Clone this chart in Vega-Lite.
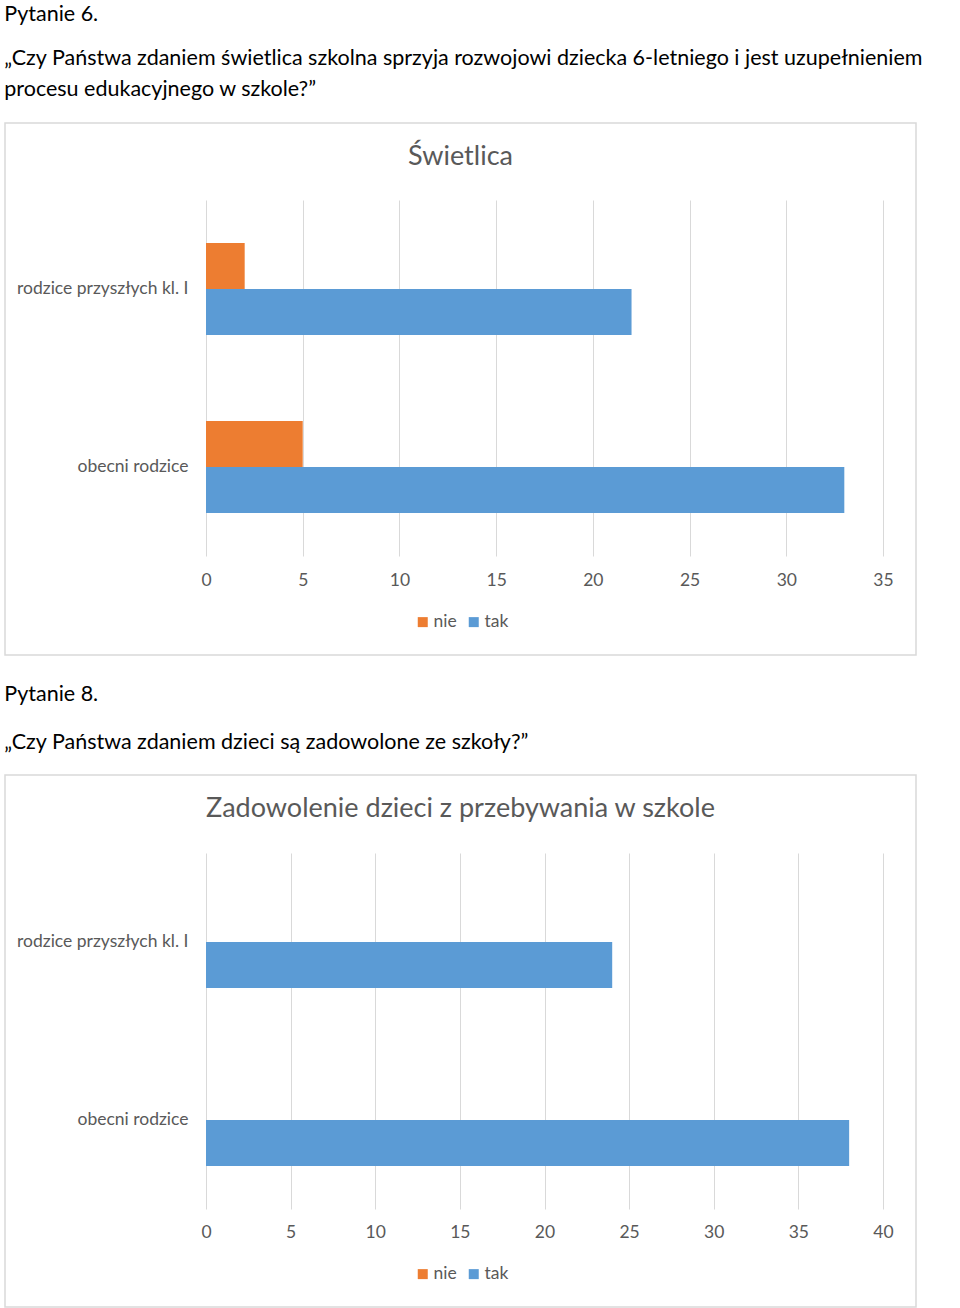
{
  "$schema": "https://vega.github.io/schema/vega-lite/v6.json",
  "padding": {"left": 4, "top": 4, "right": 0, "bottom": 0},
  "background": "white",
  "spacing": 28,
  "resolve": {"scale": {"color": "independent"}, "legend": {"color": "independent"}},
  "config": {
    "font": "Lato",
    "view": {"stroke": "#d9d9d9", "strokeWidth": 1.5},
    "axis": {"labelFont": "Lato", "labelFontSize": 17.5, "labelColor": "#595959", "gridColor": "#d9d9d9", "gridWidth": 1, "domain": false, "ticks": false, "title": null},
    "legend": {"labelFont": "Lato", "labelFontSize": 17.5, "labelColor": "#595959"}
  },
  "datasets": {
    "q6": [
      {"grupa": "rodzice przyszłych kl. I", "odp": "nie", "liczba": 2},
      {"grupa": "rodzice przyszłych kl. I", "odp": "tak", "liczba": 22},
      {"grupa": "obecni rodzice", "odp": "nie", "liczba": 5},
      {"grupa": "obecni rodzice", "odp": "tak", "liczba": 33}
    ],
    "q8": [
      {"grupa": "rodzice przyszłych kl. I", "odp": "nie", "liczba": 0},
      {"grupa": "rodzice przyszłych kl. I", "odp": "tak", "liczba": 24},
      {"grupa": "obecni rodzice", "odp": "nie", "liczba": 0},
      {"grupa": "obecni rodzice", "odp": "tak", "liczba": 38}
    ]
  },
  "vconcat": [
    {
      "title": {
        "text": "Pytanie 6.",
        "subtitle": ["„Czy Państwa zdaniem świetlica szkolna sprzyja rozwojowi dziecka 6-letniego i jest uzupełnieniem", "procesu edukacyjnego w szkole?”"],
        "anchor": "start", "font": "Lato", "fontSize": 21.5, "fontWeight": "normal", "color": "black",
        "subtitleFont": "Lato", "subtitleFontSize": 21.5, "subtitleColor": "black", "subtitlePadding": 22, "subtitleLineHeight": 31, "offset": 22
      },
      "vconcat": [
        {
          "width": 911, "height": 532,
          "data": {"name": "q6"},
          "title": {"text": "Świetlica", "offset": -48, "fontSize": 27, "color": "#595959", "fontWeight": "normal", "anchor": "middle", "font": "Lato"},
          "mark": {"type": "bar"},
          "encoding": {
            "y": {"field": "grupa", "type": "nominal", "sort": ["rodzice przyszłych kl. I", "obecni rodzice"],
              "scale": {"range": [77, 433], "paddingInner": 0.483, "paddingOuter": 0.2415},
              "axis": {"offset": -183, "labelPadding": 0, "grid": false}},
            "yOffset": {"field": "odp", "type": "nominal", "sort": ["nie", "tak"], "scale": {"paddingInner": 0, "paddingOuter": 0}},
            "x": {"field": "liczba", "type": "quantitative",
              "scale": {"domain": [0, 35], "range": [201, 878], "nice": false},
              "axis": {"orient": "top", "values": [0, 5, 10, 15, 20, 25, 30, 35], "offset": -466, "labelPadding": 0, "labelFlush": false, "grid": true}},
            "color": {"field": "odp", "type": "nominal",
              "scale": {"domain": ["nie", "tak"], "range": ["#ED7D31", "#5B9BD5"]},
              "legend": {"title": null, "orient": "none", "direction": "horizontal", "legendX": 409, "legendY": 490, "symbolType": "square", "symbolSize": 100, "symbolStrokeWidth": 0, "labelOffset": 2, "columnPadding": 8}}
          }
        }
      ]
    },
    {
      "title": {
        "text": "Pytanie 8.",
        "subtitle": ["„Czy Państwa zdaniem dzieci są zadowolone ze szkoły?”"],
        "anchor": "start", "font": "Lato", "fontSize": 21.5, "fontWeight": "normal", "color": "black",
        "subtitleFont": "Lato", "subtitleFontSize": 21.5, "subtitleColor": "black", "subtitlePadding": 26, "subtitleLineHeight": 31, "offset": 21
      },
      "vconcat": [
        {
          "width": 911, "height": 532,
          "data": {"name": "q8"},
          "title": {"text": "Zadowolenie dzieci z przebywania w szkole", "offset": -48, "fontSize": 27, "color": "#595959", "fontWeight": "normal", "anchor": "middle", "font": "Lato"},
          "mark": {"type": "bar"},
          "encoding": {
            "y": {"field": "grupa", "type": "nominal", "sort": ["rodzice przyszłych kl. I", "obecni rodzice"],
              "scale": {"range": [78, 434], "paddingInner": 0.483, "paddingOuter": 0.2415},
              "axis": {"offset": -183, "labelPadding": 0, "grid": false}},
            "yOffset": {"field": "odp", "type": "nominal", "sort": ["nie", "tak"], "scale": {"paddingInner": 0, "paddingOuter": 0}},
            "x": {"field": "liczba", "type": "quantitative",
              "scale": {"domain": [0, 40], "range": [201, 878], "nice": false},
              "axis": {"orient": "top", "values": [0, 5, 10, 15, 20, 25, 30, 35, 40], "offset": -466, "labelPadding": 0, "labelFlush": false, "grid": true}},
            "color": {"field": "odp", "type": "nominal",
              "scale": {"domain": ["nie", "tak"], "range": ["#ED7D31", "#5B9BD5"]},
              "legend": {"title": null, "orient": "none", "direction": "horizontal", "legendX": 409, "legendY": 490, "symbolType": "square", "symbolSize": 100, "symbolStrokeWidth": 0, "labelOffset": 2, "columnPadding": 8}}
          }
        }
      ]
    }
  ]
}
